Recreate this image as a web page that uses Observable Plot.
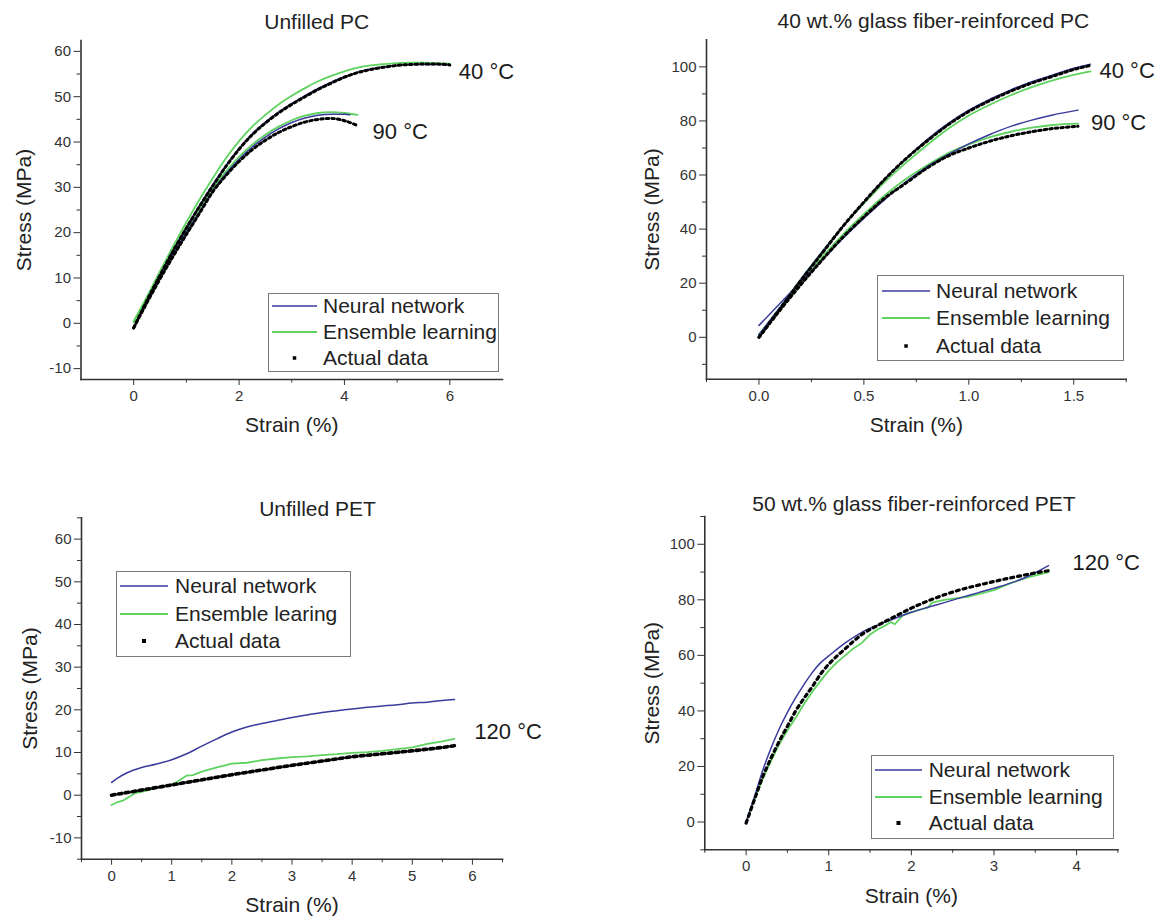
<!DOCTYPE html>
<html><head><meta charset="utf-8">
<script src="https://cdn.jsdelivr.net/npm/d3@7"></script>
<script src="https://cdn.jsdelivr.net/npm/@observablehq/plot@0.6"></script>
<style>
body{margin:0;background:#fff;font-family:"Liberation Sans",Arial,sans-serif;}
#page{position:relative;width:1161px;height:919px;overflow:hidden;background:#fff;}
.panel{position:absolute;}
.legend{position:absolute;border:1px solid #7a7a7a;background:#fff;box-sizing:border-box;}
.row{position:absolute;left:0;height:26px;display:flex;align-items:center;font-size:21px;color:#222;white-space:nowrap;}
.row svg{display:block;flex:none;}
</style></head><body><div id="page"></div>
<script>
// ---------- Series names ----------
const seriesNames = ["Neural network", "Ensemble learning", "Actual data"];
const seriesNamesPET = ["Neural network", "Ensemble learing", "Actual data"];

// ---------- Panel 1: Unfilled PC ----------
const pcStrain40 = [0,0.25,0.5,0.75,1,1.25,1.5,1.75,2,2.25,2.5,2.75,3,3.25,3.5,3.75,4,4.25,4.5,4.75,5,5.25,5.5,5.75,6];
const pcActual40 = [-1,5,10.6,16,21,25.8,30.3,34.6,38.4,41.6,44.2,46.4,48.3,50,51.6,53,54.3,55.3,56,56.5,56.9,57.1,57.2,57.2,57];
const pcNN40     = [-1,5,10.7,16.1,21.2,26,30.6,34.8,38.6,41.8,44.4,46.6,48.5,50.2,51.8,53.2,54.4,55.4,56.1,56.6,56.9,57.1,57.1,57.1,57.1];
const pcEL40     = [0.5,5.8,11.5,17,22.3,27.3,32,36.4,40.2,43.4,46,48.3,50.2,51.9,53.4,54.6,55.6,56.4,56.9,57.2,57.4,57.5,57.5,57.4,57.3];
const pcStrain90 = [0,0.25,0.5,0.75,1,1.25,1.5,1.75,2,2.25,2.5,2.75,3,3.25,3.5,3.75,4,4.25];
const pcActual90 = [-1,4.5,9.8,14.8,19.6,24.3,29,32.6,35.7,38.3,40.4,42.1,43.4,44.4,45,45.2,44.7,43.6];
const pcEL90     = [0.2,5.5,10.8,15.8,20.6,25.3,29.8,33.5,36.7,39.4,41.6,43.4,44.8,45.8,46.4,46.6,46.4,46];
const pcStrainNN90 = [0,0.25,0.5,0.75,1,1.25,1.5,1.75,2,2.25,2.5,2.75,3,3.25,3.5,3.75,4,4.1];
const pcNN90     = [-1,4.8,10.2,15.3,20.1,24.6,29.2,33,36.2,38.9,41.1,42.9,44.3,45.3,45.9,46.1,46.1,46];

// ---------- Panel 2: 40 wt.% glass fiber-reinforced PC ----------
const gfpcStrain40 = [0,0.1,0.2,0.3,0.4,0.5,0.6,0.7,0.8,0.9,1.0,1.1,1.2,1.3,1.4,1.5,1.58];
const gfpcActual40 = [0,10.5,21,31,41,50,58.5,66,72.5,78.5,83.5,87.5,91,94,96.5,99,100.5];
const gfpcNN40     = [1,11,21.5,31.5,41,50,58.5,66,73,79,84,88,91.5,94.5,97,99.5,101];
const gfpcEL40     = [1,11,21.5,31.5,41,49.5,57.5,64.5,71,77,82,86,89.5,92.5,95,97,98.3];
const gfpcStrain90 = [0,0.1,0.2,0.3,0.4,0.5,0.6,0.7,0.8,0.9,1.0,1.1,1.2,1.3,1.4,1.52];
const gfpcActual90 = [0,10,19.5,28.5,37,44.5,51.5,57,62.5,67,70,72.5,74.5,76,77.2,78];
const gfpcEL90     = [1,10.5,20,29.5,38,45.5,52.5,58.5,63.5,68,71.3,74,76,77.5,78.5,79];
const gfpcNN90     = [4.4,12.5,20.5,28.5,36.5,44,51,57.5,63,67.5,71.5,75,78,80.3,82.2,84];

// ---------- Panel 3: Unfilled PET ----------
const petStrainNN = [0,0.1,0.25,0.5,0.75,1,1.25,1.5,1.75,2,2.25,2.5,2.75,3,3.25,3.5,3.75,4,4.25,4.5,4.75,5,5.25,5.5,5.7];
const petNN       = [3,4,5.2,6.5,7.3,8.3,9.7,11.5,13.2,14.8,16,16.8,17.5,18.2,18.8,19.4,19.8,20.2,20.6,20.9,21.2,21.6,21.8,22.2,22.4];
const petStrainEL = [0,0.1,0.2,0.3,0.4,0.5,0.75,1,1.1,1.25,1.35,1.5,1.75,2,2.25,2.5,2.75,3,3.25,3.5,3.75,4,4.25,4.5,4.75,5,5.25,5.5,5.7];
const petEL       = [-2.3,-1.6,-1.2,-0.3,0.5,0.8,1.7,2.5,3.2,4.6,4.7,5.5,6.5,7.4,7.6,8.2,8.6,8.9,9.1,9.4,9.6,9.9,10.1,10.4,10.8,11.2,12,12.6,13.2];
const petStrainAct = [0,0.5,1,1.5,2,2.5,3,3.5,4,4.5,5,5.5,5.7];
const petActual    = [0,1.2,2.4,3.6,4.8,5.9,7,8,9,9.7,10.4,11.2,11.6];

// ---------- Panel 4: 50 wt.% glass fiber-reinforced PET ----------
const gfpetStrain = [0,0.1,0.2,0.3,0.4,0.5,0.6,0.7,0.8,0.9,1.0,1.2,1.4,1.6,1.8,2.0,2.2,2.4,2.6,2.8,3.0,3.2,3.4,3.66];
const gfpetActual = [-0.4,8,16.2,22.9,29,34.5,40,44.5,48.7,53.2,56.8,62.4,67.5,70.9,74,77,79.6,81.8,83.7,85.2,86.6,87.9,89.1,90.5];
const gfpetNN     = [0,9,18.5,26.5,33.5,39.5,44.8,49.5,53.8,57.3,59.8,64.5,68.3,71,73.3,75.5,77.3,79,80.8,82.5,84.2,86,88.3,92.3];
const gfpetStrainEL = [0,0.1,0.2,0.3,0.4,0.5,0.6,0.7,0.8,0.9,1.0,1.1,1.2,1.3,1.4,1.5,1.6,1.7,1.75,1.8,1.9,2.0,2.1,2.2,2.25,2.4,2.6,2.7,2.8,3.0,3.2,3.4,3.66];
const gfpetEL       = [0,8,15.5,21.8,28,33,37.5,42.5,46.8,50.8,54.5,57.5,60,62.5,64.5,67.5,69.5,71,72,71.2,74.5,75.5,76.5,77.2,79,80,80.8,81.2,82,83.5,86,88,90];

// ---------- Axis tick values ----------
const pcXTicks = [0,2,4,6], pcXMinor = [1,3,5];
const pcYTicks = [-10,0,10,20,30,40,50,60], pcYMinor = [-5,5,15,25,35,45,55];
const gfpcXTicks = [0,0.5,1,1.5], gfpcXMinor = [-0.25,0.25,0.75,1.25,1.75];
const gfpcYTicks = [0,20,40,60,80,100], gfpcYMinor = [-10,10,30,50,70,90];
const petXTicks = [0,1,2,3,4,5,6], petXMinor = [-0.5,0.5,1.5,2.5,3.5,4.5,5.5,6.5];
const petYTicks = [-10,0,10,20,30,40,50,60], petYMinor = [-15,-5,5,15,25,35,45,55,65];
const gfpetXTicks = [0,1,2,3,4], gfpetXMinor = [-0.5,0.5,1.5,2.5,3.5,4.5];
const gfpetYTicks = [0,20,40,60,80,100], gfpetYMinor = [-10,10,30,50,70,90,110];

// ---------- Styles ----------
const BLUE = "#3b3b9e", GREEN = "#5fd35f", BLACK = "#000";
const FONT = "'Liberation Sans', Arial, sans-serif";

function rows(xs, ys) { return xs.map((x, i) => ({x, y: ys[i]})); }

function panel(cfg) {
  const marks = [
    Plot.frame({anchor: "left", stroke: "#333", strokeWidth: 1.6}),
    Plot.frame({anchor: "bottom", stroke: "#333", strokeWidth: 1.6}),
    Plot.axisX(cfg.xTicks, {tickSize: 6, tickPadding: 5, tickFormat: cfg.xFmt || (d => String(d)), label: null, stroke: "#333", fill: "#333", fontSize: 15}),
    Plot.axisX(cfg.xMinor, {tickSize: 3.5, fill: "none", label: null, stroke: "#333"}),
    Plot.axisY(cfg.yTicks, {tickSize: 7, tickPadding: 3, tickFormat: d => String(d), label: null, stroke: "#333", fill: "#333", fontSize: 15}),
    Plot.axisY(cfg.yMinor, {tickSize: 4, fill: "none", label: null, stroke: "#333"})
  ];
  for (const s of cfg.series) {
    if (s.kind === "dots") {
      marks.push(Plot.line(s.data, {x: "x", y: "y", stroke: BLACK, strokeWidth: s.w || 3, strokeDasharray: s.dash || "2.5,3.1", curve: "monotone-x"}));
    } else {
      marks.push(Plot.line(s.data, {x: "x", y: "y", stroke: s.color, strokeWidth: s.width || 1.5, curve: s.curve || "monotone-x"}));
    }
  }
  for (const t of cfg.temps) {
    marks.push(Plot.text(t.data, Plot.selectLast({x: "x", y: "y", text: () => t.label, dx: t.dx, dy: t.dy, textAnchor: "start", lineAnchor: "middle", fontSize: 22, fill: "#1a1a1a"})));
  }
  marks.push(Plot.text([cfg.title], {frameAnchor: "top", dx: cfg.titleDx, dy: cfg.titleDy, lineAnchor: "middle", textAnchor: "middle", fontSize: 21, fill: "#222"}));
  marks.push(Plot.text(["Stress (MPa)"], {frameAnchor: "left", dx: -cfg.yLabelOffset, rotate: -90, lineAnchor: "middle", textAnchor: "middle", fontSize: 21, fill: "#222"}));
  marks.push(Plot.text(["Strain (%)"], {frameAnchor: "bottom", dy: 46, lineAnchor: "middle", textAnchor: "middle", fontSize: 21, fill: "#222"}));
  const svg = Plot.plot({
    width: cfg.width, height: cfg.height,
    marginLeft: cfg.ml, marginRight: cfg.mr, marginTop: cfg.mt, marginBottom: cfg.mb,
    x: {domain: cfg.xDomain, label: null},
    y: {domain: cfg.yDomain, label: null},
    style: {fontFamily: FONT, fontSize: "15px", color: "#333", background: "transparent", overflow: "visible"},
    marks
  });
  const div = document.createElement("div");
  div.className = "panel";
  div.style.left = cfg.left + "px";
  div.style.top = cfg.top + "px";
  div.appendChild(svg);
  document.getElementById("page").appendChild(div);
}

function legend(box, names, dot) {
  const el = document.createElement("div");
  el.className = "legend";
  Object.assign(el.style, {left: box.left + "px", top: box.top + "px", width: box.width + "px", height: box.height + "px"});
  const kinds = ["blue", "green", "dots"];
  names.forEach((name, i) => {
    const r = document.createElement("div");
    r.className = "row";
    r.style.top = (box.rows[i] - box.top - 14) + "px";
    const w = box.lineX1 - box.lineX0;
    const sw = d3.create("svg").attr("width", w).attr("height", 26)
      .style("margin-left", (box.lineX0 - box.left - 1) + "px")
      .style("margin-right", (box.textX - box.lineX1) + "px");
    if (kinds[i] === "dots") {
      sw.append("rect").attr("x", w / 2 - dot / 2).attr("y", 13 - dot / 2).attr("width", dot).attr("height", dot).attr("fill", BLACK);
    } else {
      sw.append("line").attr("x1", 0).attr("x2", w).attr("y1", 13).attr("y2", 13)
        .attr("stroke", kinds[i] === "blue" ? BLUE : GREEN).attr("stroke-width", kinds[i] === "blue" ? 1.5 : 1.8);
    }
    r.appendChild(sw.node());
    const tx = document.createElement("span");
    tx.textContent = name;
    r.appendChild(tx);
    el.appendChild(r);
  });
  document.getElementById("page").appendChild(el);
}

// Panel 1
panel({
  left: 0, top: 0, width: 580, height: 460, ml: 80.5, mr: 78, mt: 40, mb: 81,
  xDomain: [-1, 7], yDomain: [-12.4, 62.4],
  xTicks: pcXTicks, xMinor: pcXMinor, yTicks: pcYTicks, yMinor: pcYMinor,
  title: "Unfilled PC", titleDx: 25, titleDy: -18.5, yLabelOffset: 57,
  series: [
    {color: GREEN, width: 1.8, data: rows(pcStrain40, pcEL40)},
    {color: GREEN, width: 1.8, data: rows(pcStrain90, pcEL90)},
    {color: BLUE, data: rows(pcStrain40, pcNN40)},
    {color: BLUE, data: rows(pcStrainNN90, pcNN90)},
    {kind: "dots", data: rows(pcStrain40, pcActual40)},
    {kind: "dots", data: rows(pcStrain90, pcActual90)}
  ],
  temps: [
    {label: "40 °C", data: rows(pcStrain40, pcActual40), dx: 9, dy: 7},
    {label: "90 °C", data: rows(pcStrain90, pcActual90), dx: 15, dy: 6.5}
  ]
});
legend({left: 268, top: 293, width: 231, height: 79, rows: [306, 332.3, 358.3], lineX0: 271.7, lineX1: 316.7, textX: 323}, seriesNames, 3.5);

// Panel 2
panel({
  left: 580, top: 0, width: 581, height: 460, ml: 126, mr: 35.3, mt: 39.3, mb: 81.3,
  xDomain: [-0.25, 1.75], yDomain: [-15.5, 110],
  xTicks: gfpcXTicks, xMinor: gfpcXMinor, yTicks: gfpcYTicks, yMinor: gfpcYMinor, xFmt: d => d.toFixed(1),
  title: "40 wt.% glass fiber-reinforced PC", titleDx: 17, titleDy: -18.5, yLabelOffset: 54,
  series: [
    {color: GREEN, width: 1.8, data: rows(gfpcStrain40, gfpcEL40)},
    {color: GREEN, width: 1.8, data: rows(gfpcStrain90, gfpcEL90)},
    {color: BLUE, data: rows(gfpcStrain40, gfpcNN40)},
    {color: BLUE, data: rows(gfpcStrain90, gfpcNN90)},
    {kind: "dots", data: rows(gfpcStrain40, gfpcActual40)},
    {kind: "dots", data: rows(gfpcStrain90, gfpcActual90)}
  ],
  temps: [
    {label: "40 °C", data: rows(gfpcStrain40, gfpcActual40), dx: 9, dy: 5},
    {label: "90 °C", data: rows(gfpcStrain90, gfpcActual90), dx: 13, dy: -3}
  ]
});
legend({left: 877, top: 275, width: 247, height: 86, rows: [290.7, 318.3, 345.7], lineX0: 881.5, lineX1: 929.6, textX: 936}, seriesNames, 3.5);

// Panel 3
panel({
  left: 0, top: 460, width: 580, height: 459, ml: 81, mr: 78, mt: 57.3, mb: 60.3,
  xDomain: [-0.5, 6.5], yDomain: [-15, 65],
  xTicks: petXTicks, xMinor: petXMinor, yTicks: petYTicks, yMinor: petYMinor,
  title: "Unfilled PET", titleDx: 25.5, titleDy: -9, yLabelOffset: 51,
  series: [
    {color: GREEN, width: 1.8, curve: "linear", data: rows(petStrainEL, petEL)},
    {color: BLUE, data: rows(petStrainNN, petNN)},
    {kind: "dots", data: rows(petStrainAct, petActual), dash: "3.6,3.4", w: 3.6}
  ],
  temps: [
    {label: "120 °C", data: rows(petStrainAct, petActual), dx: 20, dy: -14}
  ]
});
legend({left: 116.4, top: 570.7, width: 235, height: 86, rows: [586, 614, 641], lineX0: 120, lineX1: 168, textX: 175}, seriesNamesPET, 4);

// Panel 4
panel({
  left: 580, top: 460, width: 581, height: 459, ml: 124.3, mr: 43.6, mt: 56, mb: 69.7,
  xDomain: [-0.5, 4.5], yDomain: [-10, 110],
  xTicks: gfpetXTicks, xMinor: gfpetXMinor, yTicks: gfpetYTicks, yMinor: gfpetYMinor,
  title: "50 wt.% glass fiber-reinforced PET", titleDx: 2.5, titleDy: -12.7, yLabelOffset: 52.3,
  series: [
    {color: GREEN, width: 1.8, curve: "linear", data: rows(gfpetStrainEL, gfpetEL)},
    {color: BLUE, data: rows(gfpetStrain, gfpetNN)},
    {kind: "dots", data: rows(gfpetStrain, gfpetActual), dash: "3,4", w: 3.2}
  ],
  temps: [
    {label: "120 °C", data: rows(gfpetStrain, gfpetActual), dx: 24, dy: -8}
  ]
});
legend({left: 871, top: 755, width: 243, height: 84, rows: [770, 797.3, 823.3], lineX0: 875, lineX1: 922, textX: 928.7}, seriesNames, 4);
</script>
</body></html>
